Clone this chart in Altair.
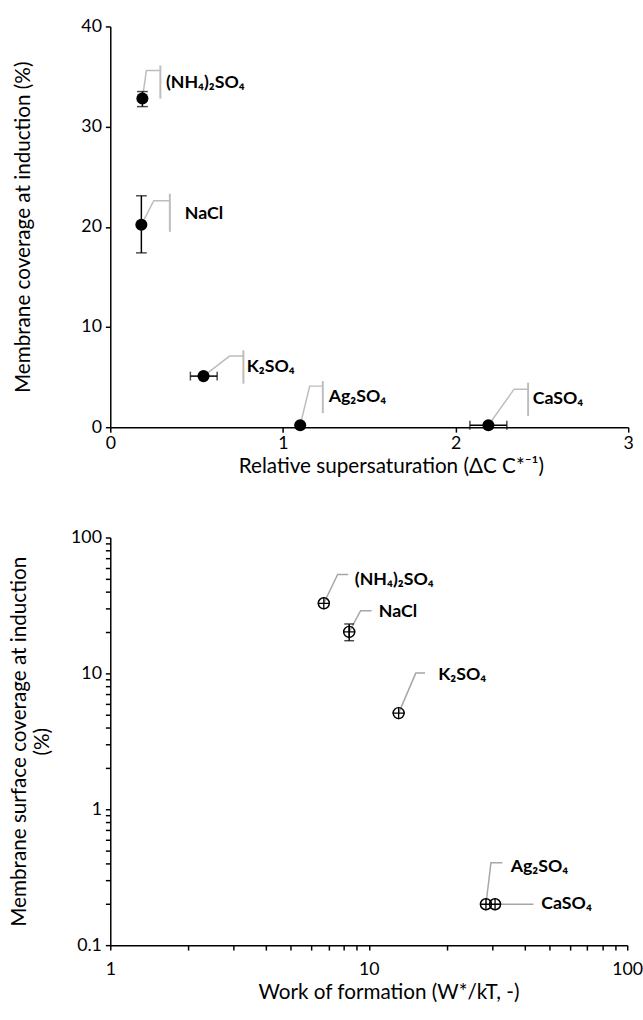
import altair as alt
import pandas as pd

FONT = "Lato"

salts = ["(NH₄)₂SO₄", "NaCl", "K₂SO₄", "Ag₂SO₄", "CaSO₄"]

# ---- top panel: coverage vs relative supersaturation ----
rel_ss = [0.186, 0.18, 0.54, 1.10, 2.19]
rel_ss_lo = [0.186, 0.18, 0.464, 1.10, 2.083]
rel_ss_hi = [0.186, 0.18, 0.619, 1.10, 2.297]
coverage = [32.8, 20.2, 5.1, 0.2, 0.2]
coverage_lo = [32.0, 17.4, 5.1, 0.2, 0.2]
coverage_hi = [33.5, 23.1, 5.1, 0.2, 0.2]

# callout geometry (data units)
top_corner_x = [0.209, 0.252, 0.691, 1.155, 2.339]
top_corner_y = [35.6, 22.6, 7.1, 4.1, 3.8]
top_bar_x = [0.29, 0.345, 0.771, 1.231, 2.42]
top_bar_lo = [32.8, 19.5, 4.35, 1.4, 1.1]
top_bar_hi = [36.1, 23.3, 7.67, 4.6, 4.45]
top_text_x = [0.322, 0.432, 0.79, 1.265, 2.447]
top_text_y = [34.3, 21.3, 6.0, 3.0, 2.8]

# ---- bottom panel: coverage vs work of formation ----
work = [6.7, 8.4, 13.05, 28.4, 30.8]
cov_b = [32.8, 20.2, 5.1, 0.2, 0.2]
cov_b_lo = [32.0, 17.4, 5.1, 0.2, 0.2]
cov_b_hi = [33.5, 23.1, 5.1, 0.2, 0.2]

bot_corner_x = [7.58, 9.3, 15.2, 29.7, 30.8]
bot_corner_y = [53.4, 28.9, 10.05, 0.404, 0.2]
bot_end_x = [8.33, 10.25, 16.5, 32.9, 43.4]
bot_text_x = [8.83, 10.94, 18.56, 35.4, 46.5]
bot_text_y = [49.0, 28.1, 9.7, 0.378, 0.2]

top_x_ticks = [0, 1, 2, 3]
top_y_ticks = [0, 10, 20, 30, 40]
bot_x_ticks = [1, 2, 3, 4, 5, 6, 7, 8, 9, 10, 20, 30, 40, 50, 60, 70, 80, 90, 100]
bot_y_ticks = [0.1, 0.2, 0.3, 0.4, 0.5, 0.6, 0.7, 0.8, 0.9, 1, 2, 3, 4, 5, 6, 7, 8, 9,
               10, 20, 30, 40, 50, 60, 70, 80, 90, 100]

AX = dict(domainColor="black", domainWidth=1.5, tickColor="black", tickWidth=1.5, tickSize=5,
          labelFont=FONT, labelFontSize=18, labelColor="black", labelFlush=False,
          labelOverlap=False, titleFont=FONT, titleFontSize=21, titleFontWeight="normal",
          titleColor="black", grid=False)

LEADER_TOP = "#bdbdbd"
LEADER_BOT = "#a6a6a6"
LABEL_SIZE = 18

TOP_W, TOP_H = 526, 407
BOT_W, BOT_H = 525, 414

# ================= TOP =================
top_xa = alt.Axis(values=top_x_ticks, title="Relative supersaturation (ΔC C*⁻¹)",
                  labelPadding=3, titlePadding=3, titleX=TOP_W / 2 + 22, **AX)
top_ya = alt.Axis(values=top_y_ticks, title="Membrane coverage at induction (%)",
                  titleAngle=-90, titleX=-88, titleY=TOP_H / 2, titleAlign="center",
                  titleBaseline="middle", labelPadding=4, **AX)
top_xs = alt.Scale(domain=[0, 3], nice=False, zero=False)
top_ys = alt.Scale(domain=[0, 40], nice=False)


def TX(f):
    return alt.X(f"{f}:Q", scale=top_xs, axis=top_xa)


def TY(f):
    return alt.Y(f"{f}:Q", scale=top_ys, axis=top_ya)


pts_top = pd.DataFrame({"salt": salts, "x": rel_ss, "y": coverage})

lead_rows = []
for i, s in enumerate(salts):
    lead_rows.append({"salt": s, "o": 0, "x": rel_ss[i], "y": coverage[i]})
    lead_rows.append({"salt": s, "o": 1, "x": top_corner_x[i], "y": top_corner_y[i]})
    lead_rows.append({"salt": s, "o": 2, "x": top_bar_x[i], "y": top_corner_y[i]})
lead_top = pd.DataFrame(lead_rows)
bars_top = pd.DataFrame({"salt": salts, "x": top_bar_x, "y": top_bar_lo, "y2": top_bar_hi})
text_top = pd.DataFrame({"salt": salts, "x": top_text_x, "y": top_text_y})

verr = pd.DataFrame([{"x": rel_ss[i], "y": coverage_lo[i], "y2": coverage_hi[i]}
                     for i in range(len(salts)) if coverage_hi[i] > coverage_lo[i]])
herr = pd.DataFrame([{"x": rel_ss_lo[i], "x2": rel_ss_hi[i], "y": coverage[i]}
                     for i in range(len(salts)) if rel_ss_hi[i] > rel_ss_lo[i]])
vcaps = pd.DataFrame([{"x": r.x, "y": v} for r in verr.itertuples() for v in (r.y, r.y2)])
hcaps = pd.DataFrame([{"x": v, "y": r.y} for r in herr.itertuples() for v in (r.x, r.x2)])

t_leader = alt.Chart(lead_top).mark_line(color=LEADER_TOP, strokeWidth=1.5).encode(
    x=TX("x"), y=TY("y"), detail="salt:N", order="o:O")
t_bar = alt.Chart(bars_top).mark_rule(color=LEADER_TOP, strokeWidth=2).encode(
    x=TX("x"), y=TY("y"), y2="y2:Q")
t_verr = alt.Chart(verr).mark_rule(color="black", strokeWidth=1.5).encode(
    x=TX("x"), y=TY("y"), y2="y2:Q")
t_vcap = alt.Chart(vcaps).mark_tick(color="black", orient="horizontal", size=11, thickness=1.5).encode(
    x=TX("x"), y=TY("y"))
t_herr = alt.Chart(herr).mark_rule(color="black", strokeWidth=1.5).encode(
    x=TX("x"), x2="x2:Q", y=TY("y"))
t_hcap = alt.Chart(hcaps).mark_tick(color="black", orient="vertical", size=9, thickness=1.5).encode(
    x=TX("x"), y=TY("y"))
t_pts = alt.Chart(pts_top).mark_circle(color="black", opacity=1, size=150).encode(
    x=TX("x"), y=TY("y"))
t_text = alt.Chart(text_top).mark_text(align="left", baseline="middle", font=FONT,
                                       fontSize=LABEL_SIZE, fontWeight="bold", color="black").encode(
    x=TX("x"), y=TY("y"), text="salt:N")

top = alt.layer(t_leader, t_bar, t_verr, t_vcap, t_herr, t_hcap, t_pts, t_text).properties(
    width=TOP_W, height=TOP_H)

# ================= BOTTOM =================
bot_xa = alt.Axis(values=bot_x_ticks, title="Work of formation (W*/kT, -)", format="~g",
                  labelExpr="(datum.value == 1 || datum.value == 10 || datum.value == 100) ? datum.label : ''",
                  labelPadding=11, titlePadding=3, titleX=BOT_W / 2 + 20, **AX)
bot_ya = alt.Axis(values=bot_y_ticks, title=["Membrane surface coverage at induction", "(%)"],
                  format="~g",
                  labelExpr="(datum.value == 0.1 || datum.value == 1 || datum.value == 10 || datum.value == 100) ? datum.label : ''",
                  titleAngle=-90, titleX=-92, titleY=BOT_H / 2, titleAlign="center",
                  titleBaseline="middle", titleLineHeight=23, labelPadding=4, **AX)
bot_xs = alt.Scale(type="log", domain=[1, 100], nice=False)
bot_ys = alt.Scale(type="log", domain=[0.1, 100], nice=False)


def BX(f):
    return alt.X(f"{f}:Q", scale=bot_xs, axis=bot_xa)


def BY(f):
    return alt.Y(f"{f}:Q", scale=bot_ys, axis=bot_ya)


pts_bot = pd.DataFrame({"salt": salts, "x": work, "y": cov_b})
lrows = []
for i, s in enumerate(salts):
    lrows.append({"salt": s, "o": 0, "x": work[i], "y": cov_b[i]})
    lrows.append({"salt": s, "o": 1, "x": bot_corner_x[i], "y": bot_corner_y[i]})
    lrows.append({"salt": s, "o": 2, "x": bot_end_x[i], "y": bot_corner_y[i]})
lead_bot = pd.DataFrame(lrows)
text_bot = pd.DataFrame({"salt": salts, "x": bot_text_x, "y": bot_text_y})
berr = pd.DataFrame([{"x": work[i], "y": cov_b_lo[i], "y2": cov_b_hi[i]}
                     for i in range(len(salts)) if cov_b_hi[i] - cov_b_lo[i] > 2])
bcaps = pd.DataFrame([{"x": r.x, "y": v} for r in berr.itertuples() for v in (r.y, r.y2)])

CROSS = "M-1,0L1,0M0,-1L0,1"

b_leader = alt.Chart(lead_bot).mark_line(color=LEADER_BOT, strokeWidth=1.5).encode(
    x=BX("x"), y=BY("y"), detail="salt:N", order="o:O")
b_err = alt.Chart(berr).mark_rule(color="black", strokeWidth=1.5).encode(
    x=BX("x"), y=BY("y"), y2="y2:Q")
b_cap = alt.Chart(bcaps).mark_tick(color="black", orient="horizontal", size=10, thickness=1.5).encode(
    x=BX("x"), y=BY("y"))
b_circ = alt.Chart(pts_bot).mark_point(shape="circle", filled=False, color="black",
                                       strokeWidth=1.5, size=125, opacity=1).encode(
    x=BX("x"), y=BY("y"))
b_cross = alt.Chart(pts_bot).mark_point(shape=CROSS, filled=False, color="black",
                                        strokeWidth=1.3, size=150, opacity=1).encode(
    x=BX("x"), y=BY("y"))
b_text = alt.Chart(text_bot).mark_text(align="left", baseline="middle", font=FONT,
                                       fontSize=LABEL_SIZE, fontWeight="bold", color="black").encode(
    x=BX("x"), y=BY("y"), text="salt:N")

bottom = alt.layer(b_leader, b_err, b_cap, b_circ, b_cross, b_text).properties(
    width=BOT_W, height=BOT_H)

chart = alt.vconcat(top, bottom, spacing=112, bounds="flush").properties(
    padding={"left": 8, "top": 10, "right": 0, "bottom": 0}
).configure_view(stroke=None)

chart.save("out.html", embed_options={"renderer": "svg", "actions": False})
